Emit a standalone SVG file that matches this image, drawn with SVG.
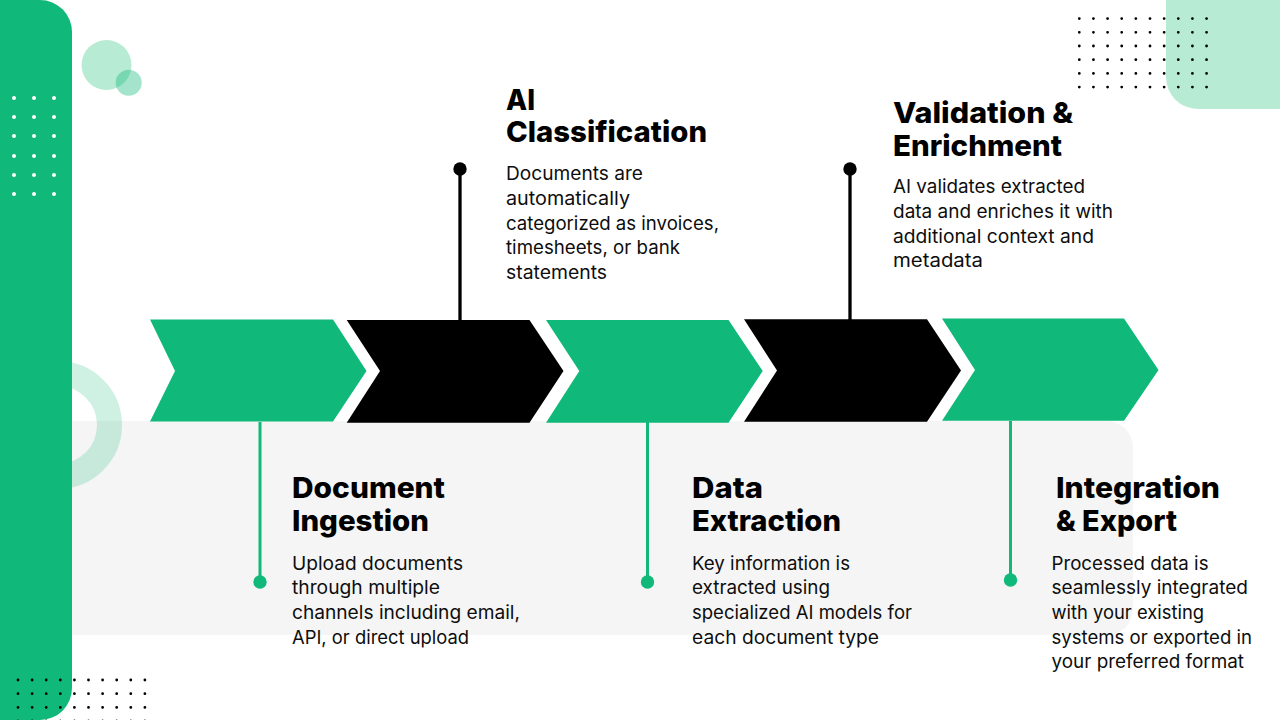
<svg xmlns="http://www.w3.org/2000/svg" width="1280" height="720" viewBox="0 0 1280 720">
<style>
.h{font-family:"Inter","Liberation Sans",sans-serif;font-weight:800;font-size:29px;fill:#000}
.b{font-family:"Inter","Liberation Sans",sans-serif;font-weight:400;font-size:18.5px;fill:#0d0d0d}
.g{fill:#10b97a}
.k{fill:#000}
.ls{stroke:#10b97a;stroke-width:3;fill:none}
.lk{stroke:#000;stroke-width:3.300;fill:none}
</style>
<g id="background">
<rect x="40" y="421" width="1093" height="214" rx="26" fill="#f5f5f5"/>
<circle cx="58" cy="425" r="51.5" fill="none" stroke="#10b97a" stroke-opacity=".2" stroke-width="25"/>
<rect x="-40" y="0" width="112" height="720" rx="32" fill="#10b97a"/>
<circle cx="106.5" cy="65" r="25" fill="#b7ebd4"/>
<circle cx="128.7" cy="82.7" r="13" fill="#10b97a" fill-opacity=".38"/>
<rect x="1166" y="-40" width="160" height="149" rx="32" fill="#b7ebd4"/>
<g id="dots-white" fill="#fff">
<circle cx="14" cy="98" r="2"/><circle cx="34" cy="98" r="2"/><circle cx="54" cy="98" r="2"/>
<circle cx="14" cy="117" r="2"/><circle cx="34" cy="117" r="2"/><circle cx="54" cy="117" r="2"/>
<circle cx="14" cy="136" r="2"/><circle cx="34" cy="136" r="2"/><circle cx="54" cy="136" r="2"/>
<circle cx="14" cy="156" r="2"/><circle cx="34" cy="156" r="2"/><circle cx="54" cy="156" r="2"/>
<circle cx="14" cy="175" r="2"/><circle cx="34" cy="175" r="2"/><circle cx="54" cy="175" r="2"/>
<circle cx="14" cy="194" r="2"/><circle cx="34" cy="194" r="2"/><circle cx="54" cy="194" r="2"/>
</g>
<path id="dots-tr" fill="none" stroke="#000" stroke-width="2.800" stroke-linecap="round" stroke-dasharray="0 14.14" d="M1079.3 18.6H1207M1079.3 32.3H1207M1079.3 46H1207M1079.3 59.7H1207M1079.3 73.4H1207M1079.3 87.1H1207"/>
<path id="dots-bl" fill="none" stroke="#000" stroke-width="2.800" stroke-linecap="round" stroke-dasharray="0 14.1" d="M18 680H147M18 693.7H147M18 707.4H147M18 721H147"/>
</g>
<g id="connectors">
<line class="lk" x1="460" y1="169" x2="460" y2="321"/>
<line class="lk" x1="850" y1="169" x2="850" y2="320"/>
<line class="ls" x1="260" y1="422" x2="260" y2="582"/>
<line class="ls" x1="647.500" y1="422" x2="647.500" y2="582"/>
<line class="ls" x1="1010.500" y1="421" x2="1010.500" y2="580"/>
<circle class="k" cx="460" cy="169" r="6.700"/>
<circle class="k" cx="850" cy="169" r="6.700"/>
<circle class="g" cx="260" cy="582" r="6.700"/>
<circle class="g" cx="647.500" cy="582" r="6.700"/>
<circle class="g" cx="1010.500" cy="580" r="6.700"/>
</g>
<g id="node-1">
<path class="g" d="M150 319.500H333L366.500 371L333 421.500H150L175 371Z"/>
<text class="h" lengthAdjust="spacingAndGlyphs" x="292" y="498.300" textLength="153">Document</text>
<text class="h" lengthAdjust="spacingAndGlyphs" x="292" y="531" textLength="137">Ingestion</text>
<text class="b" lengthAdjust="spacingAndGlyphs" x="292" y="569.500" textLength="171">Upload documents</text>
<text class="b" lengthAdjust="spacingAndGlyphs" x="292" y="594.300" textLength="148">through multiple</text>
<text class="b" lengthAdjust="spacingAndGlyphs" x="292" y="618.800" textLength="228">channels including email,</text>
<text class="b" lengthAdjust="spacingAndGlyphs" x="292" y="643.500" textLength="177">API, or direct upload</text>
</g>
<g id="node-2">
<path class="k" d="M346.700 320H529.500L563.500 371L529.500 422.700H346.700L380 371Z"/>
<text class="h" lengthAdjust="spacingAndGlyphs" x="506" y="109.500" textLength="29">AI</text>
<text class="h" lengthAdjust="spacingAndGlyphs" x="506" y="142" textLength="201">Classification</text>
<text class="b" lengthAdjust="spacingAndGlyphs" x="506" y="180.300" textLength="137">Documents are</text>
<text class="b" lengthAdjust="spacingAndGlyphs" x="506" y="205" textLength="124">automatically</text>
<text class="b" lengthAdjust="spacingAndGlyphs" x="506" y="229.500" textLength="213">categorized as invoices,</text>
<text class="b" lengthAdjust="spacingAndGlyphs" x="506" y="254.300" textLength="174">timesheets, or bank</text>
<text class="b" lengthAdjust="spacingAndGlyphs" x="506" y="279" textLength="101">statements</text>
</g>
<g id="node-3">
<path class="g" d="M546 320H728.500L762.700 371L728.500 422.700H546L579.300 371Z"/>
<text class="h" lengthAdjust="spacingAndGlyphs" x="692" y="498.300" textLength="71">Data</text>
<text class="h" lengthAdjust="spacingAndGlyphs" x="692" y="531" textLength="149">Extraction</text>
<text class="b" lengthAdjust="spacingAndGlyphs" x="692" y="569.500" textLength="158">Key information is</text>
<text class="b" lengthAdjust="spacingAndGlyphs" x="692" y="594.300" textLength="138">extracted using</text>
<text class="b" lengthAdjust="spacingAndGlyphs" x="692" y="618.800" textLength="220">specialized AI models for</text>
<text class="b" lengthAdjust="spacingAndGlyphs" x="692" y="643.500" textLength="187">each document type</text>
</g>
<g id="node-4">
<path class="k" d="M744 319.300H927L961 370.500L927 421.700H744L777 370.500Z"/>
<text class="h" lengthAdjust="spacingAndGlyphs" x="893" y="123" textLength="180">Validation &amp;</text>
<text class="h" lengthAdjust="spacingAndGlyphs" x="893" y="155.500" textLength="169">Enrichment</text>
<text class="b" lengthAdjust="spacingAndGlyphs" x="893" y="193.300" textLength="192">AI validates extracted</text>
<text class="b" lengthAdjust="spacingAndGlyphs" x="893" y="218" textLength="220">data and enriches it with</text>
<text class="b" lengthAdjust="spacingAndGlyphs" x="893" y="242.500" textLength="201">additional context and</text>
<text class="b" lengthAdjust="spacingAndGlyphs" x="893" y="267.300" textLength="90">metadata</text>
</g>
<g id="node-5">
<path class="g" d="M942 318.500H1124L1158.500 370L1124 420.700H942L975 370Z"/>
<text class="h" lengthAdjust="spacingAndGlyphs" x="1056" y="498.300" textLength="164">Integration</text>
<text class="h" lengthAdjust="spacingAndGlyphs" x="1056" y="531" textLength="121">&amp; Export</text>
<text class="b" lengthAdjust="spacingAndGlyphs" x="1051.500" y="569.500" textLength="157">Processed data is</text>
<text class="b" lengthAdjust="spacingAndGlyphs" x="1051.500" y="594.300" textLength="196.500">seamlessly integrated</text>
<text class="b" lengthAdjust="spacingAndGlyphs" x="1051.500" y="618.800" textLength="152.500">with your existing</text>
<text class="b" lengthAdjust="spacingAndGlyphs" x="1051.500" y="643.500" textLength="200.500">systems or exported in</text>
<text class="b" lengthAdjust="spacingAndGlyphs" x="1051.500" y="668" textLength="192.500">your preferred format</text>
</g>
</svg>
